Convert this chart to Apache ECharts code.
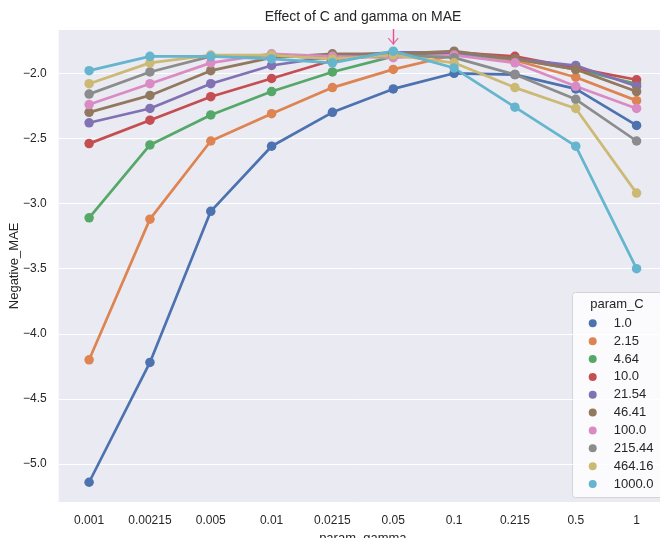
<!DOCTYPE html>
<html>
<head>
<meta charset="utf-8">
<title>Effect of C and gamma on MAE</title>
<script src="https://cdn.jsdelivr.net/npm/echarts@6/dist/echarts.min.js"></script>
<style>
  html, body { margin: 0; padding: 0; background: #fff; }
  #chart { width: 660px; height: 538px; }
</style>
</head>
<body>
<div id="chart"></div>
<script>
// x categories (param_gamma) and legend entries (param_C)
var gammaLabels = ['0.001', '0.00215', '0.005', '0.01', '0.0215', '0.05', '0.1', '0.215', '0.5', '1'];
var cLabels = ['1.0', '2.15', '4.64', '10.0', '21.54', '46.41', '100.0', '215.44', '464.16', '1000.0'];

// negative MAE per C, one value per gamma
var maeC1    = [-5.14, -4.22, -3.06, -2.56, -2.30, -2.12, -2.00, -2.01, -2.12, -2.40];
var maeC2    = [-4.20, -3.12, -2.52, -2.31, -2.11, -1.97, -1.86, -1.90, -2.03, -2.21];
var maeC4    = [-3.11, -2.55, -2.32, -2.14, -1.99, -1.87, -1.85, -1.89, -1.97, -2.08];
var maeC10   = [-2.54, -2.36, -2.18, -2.04, -1.90, -1.85, -1.84, -1.87, -1.96, -2.05];
var maeC21   = [-2.38, -2.27, -2.08, -1.94, -1.87, -1.84, -1.84, -1.89, -1.94, -2.10];
var maeC46   = [-2.30, -2.17, -1.98, -1.88, -1.85, -1.85, -1.83, -1.89, -1.97, -2.14];
var maeC100  = [-2.24, -2.08, -1.92, -1.85, -1.87, -1.88, -1.86, -1.92, -2.10, -2.27];
var maeC215  = [-2.16, -1.99, -1.87, -1.86, -1.89, -1.86, -1.88, -2.01, -2.20, -2.52];
var maeC464  = [-2.08, -1.92, -1.86, -1.86, -1.89, -1.86, -1.92, -2.11, -2.27, -2.92];
var maeC1000 = [-1.98, -1.87, -1.87, -1.89, -1.92, -1.83, -1.96, -2.26, -2.56, -3.50];

var yTicks = [-5.0, -4.5, -4.0, -3.5, -3.0, -2.5, -2.0];

// arrow annotation: x category, shaft start and arrow tip (data units)
var bestGamma = '0.05';
var arrowFrom = -1.66;
var arrowTip = -1.78;

var allMae = [maeC1, maeC2, maeC4, maeC10, maeC21, maeC46, maeC100, maeC215, maeC464, maeC1000];
var palette = ['#4C72B0', '#DD8452', '#55A868', '#C44E52', '#8172B3',
               '#937860', '#DA8BC3', '#8C8C8C', '#CCB974', '#64B5CD'];
var FONT = "'Liberation Sans', Arial, sans-serif";
var TXT = '#262626';
var PINK = '#E8508F';

var myChart = echarts.init(document.getElementById('chart'), null, { renderer: 'canvas' });

var series = [];
for (var i = 0; i < allMae.length; i++) {
    series.push({
        name: cLabels[i],
        type: 'line',
        data: allMae[i],
        symbol: 'circle',
        symbolSize: 9.5,
        lineStyle: { width: 2.7, color: palette[i] },
        itemStyle: { color: palette[i] },
        emphasis: { disabled: true }
    });
}
// arrow head (open V) + shaft pointing at the best point
series.push({
    type: 'scatter',
    silent: true,
    z: 5,
    symbol: 'path://M0.9,0 L5,4.6 L9.1,0 L10,0.9 L5,6.4 L0,0.9 Z',
    symbolSize: [11, 7],
    symbolOffset: [0, -3.5],
    itemStyle: { color: PINK },
    data: [[bestGamma, arrowTip]],
    markLine: {
        silent: true,
        symbol: ['none', 'none'],
        label: { show: false },
        lineStyle: { color: PINK, width: 1.4, type: 'solid' },
        data: [[{ coord: [bestGamma, arrowFrom] }, { coord: [bestGamma, arrowTip] }]]
    }
});

var option = {
    animation: false,
    backgroundColor: '#ffffff',
    color: palette,
    title: {
        text: 'Effect of C and gamma on MAE',
        left: 363,
        top: 10,
        padding: 0,
        textAlign: 'center',
        textStyle: { fontFamily: FONT, fontSize: 14, fontWeight: 'normal', color: TXT }
    },
    grid: {
        left: 58.7, top: 29, right: -7, bottom: 35.3,
        show: true, backgroundColor: '#EAEAF2', borderWidth: 0,
        containLabel: false,
        outerBoundsMode: 'none'
    },
    xAxis: {
        type: 'category',
        data: gammaLabels,
        boundaryGap: true,
        name: 'param_gamma',
        nameLocation: 'middle',
        nameGap: 26,
        nameTextStyle: { fontFamily: FONT, fontSize: 13, color: TXT },
        axisLine: { show: false },
        axisTick: { show: false },
        splitLine: { show: false },
        axisLabel: { fontFamily: FONT, fontSize: 12, color: TXT, margin: 12 }
    },
    yAxis: {
        type: 'value',
        min: -5.297,
        max: -1.66,
        splitNumber: 7,
        name: 'Negative_MAE',
        nameLocation: 'middle',
        nameGap: 38,
        nameMoveOverlap: false,
        nameTextStyle: { fontFamily: FONT, fontSize: 13, color: TXT },
        axisLine: { show: false },
        axisTick: { show: false },
        splitLine: { show: true, lineStyle: { color: '#ffffff', width: 1 } },
        axisLabel: {
            fontFamily: FONT, fontSize: 12, color: TXT, margin: 12,
            showMinLabel: false, showMaxLabel: false,
            formatter: function (v) {
                var hit = yTicks.some(function (t) { return Math.abs(t - v) < 1e-6; });
                if (!hit) return '';
                return v.toFixed(1).replace('-', '\u2212');
            }
        }
    },
    legend: {
        orient: 'vertical',
        left: 588.7,
        top: 316.3,
        icon: 'circle',
        itemWidth: 8,
        itemHeight: 8,
        itemGap: 3.86,
        padding: 0,
        textStyle: { fontFamily: FONT, fontSize: 13, color: TXT, lineHeight: 14, padding: [0, 0, 0, 12] },
        selectedMode: false,
        data: cLabels
    },
    graphic: [
        {
            type: 'rect',
            z: 0,
            shape: { x: 572.5, y: 292.5, width: 100, height: 205, r: 3 },
            style: { fill: 'rgba(255,255,255,0.8)', stroke: '#d4d4d4', lineWidth: 1 }
        },
        {
            type: 'text',
            z: 1,
            x: 617, y: 304,
            style: {
                text: 'param_C', font: '13px ' + FONT, fill: TXT,
                textAlign: 'center', textVerticalAlign: 'middle'
            }
        }
    ],
    series: series
};

myChart.setOption(option);
</script>
</body>
</html>
